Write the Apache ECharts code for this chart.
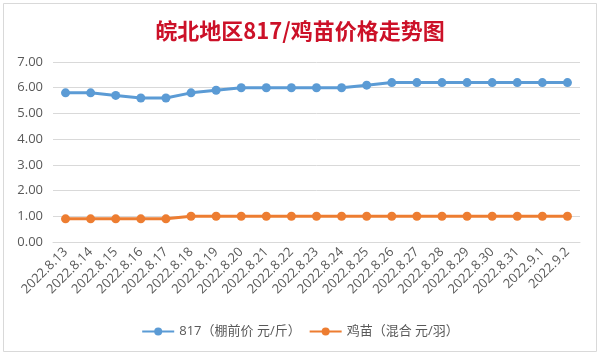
<!DOCTYPE html>
<html><head><meta charset="utf-8">
<script src="https://cdn.jsdelivr.net/npm/echarts@6/dist/echarts.min.js"></script>
<style>html,body{margin:0;padding:0;background:#fff}#c{width:600px;height:355px}</style>
</head><body><div id="c"></div>
<script>
var categories = ['2022.8.13','2022.8.14','2022.8.15','2022.8.16','2022.8.17','2022.8.18','2022.8.19','2022.8.20','2022.8.21','2022.8.22','2022.8.23','2022.8.24','2022.8.25','2022.8.26','2022.8.27','2022.8.28','2022.8.29','2022.8.30','2022.8.31','2022.9.1','2022.9.2'];
var price817 = [5.8,5.8,5.7,5.6,5.6,5.8,5.9,6.0,6.0,6.0,6.0,6.0,6.1,6.2,6.2,6.2,6.2,6.2,6.2,6.2,6.2];
var chickPrice = [0.9,0.9,0.9,0.9,0.9,1.0,1.0,1.0,1.0,1.0,1.0,1.0,1.0,1.0,1.0,1.0,1.0,1.0,1.0,1.0,1.0];
var seriesNames = ['817（棚前价 元/斤）','鸡苗（混合 元/羽）'];
var titleText = '皖北地区817/鸡苗价格走势图';

var chart = echarts.init(document.getElementById('c'));
var font = '"Open Sans","Noto Sans CJK SC",sans-serif';
chart.setOption({
  animation: false,
  backgroundColor: '#fff',
  title: {
    text: titleText, left: 'center', top: 15,
    textStyle: {color: '#cc1128', fontSize: 22, fontWeight: 'bold', fontFamily: '"Noto Sans CJK SC",serif'}
  },
  legend: {
    bottom: 12, left: 'center', itemWidth: 32, itemHeight: 10, itemGap: 8,
    textStyle: {color: '#595959', fontSize: 13, fontFamily: font},
    data: seriesNames
  },
  grid: {left: 53, right: 20, top: 62, bottom: 113},
  xAxis: {
    type: 'category', data: categories, boundaryGap: true,
    axisLine: {lineStyle: {color: '#d9d9d9'}},
    axisTick: {show: false},
    axisLabel: {rotate: 45, color: '#595959', fontSize: 13, margin: 8, interval: 0, fontFamily: font}
  },
  yAxis: {
    type: 'value', min: 0, max: 7, interval: 1,
    axisLine: {show: false}, axisTick: {show: false},
    splitLine: {lineStyle: {color: '#d9d9d9'}},
    axisLabel: {color: '#595959', fontSize: 13, margin: 10, fontFamily: font,
      formatter: function(v){return v.toFixed(2);}}
  },
  series: [
    {name: seriesNames[0], type: 'line', data: price817, symbol: 'circle', symbolSize: 9,
     lineStyle: {color: '#5b9bd5', width: 3}, itemStyle: {color: '#5b9bd5'}},
    {name: seriesNames[1], type: 'line', data: chickPrice, symbol: 'circle', symbolSize: 9,
     lineStyle: {color: '#ed7d31', width: 3}, itemStyle: {color: '#ed7d31'}}
  ],
  graphic: [{type: 'rect', shape: {x: 3.5, y: 3.5, width: 593, height: 348},
    style: {fill: 'none', stroke: '#d9d9d9', lineWidth: 1}, silent: true}]
});
</script></body></html>
